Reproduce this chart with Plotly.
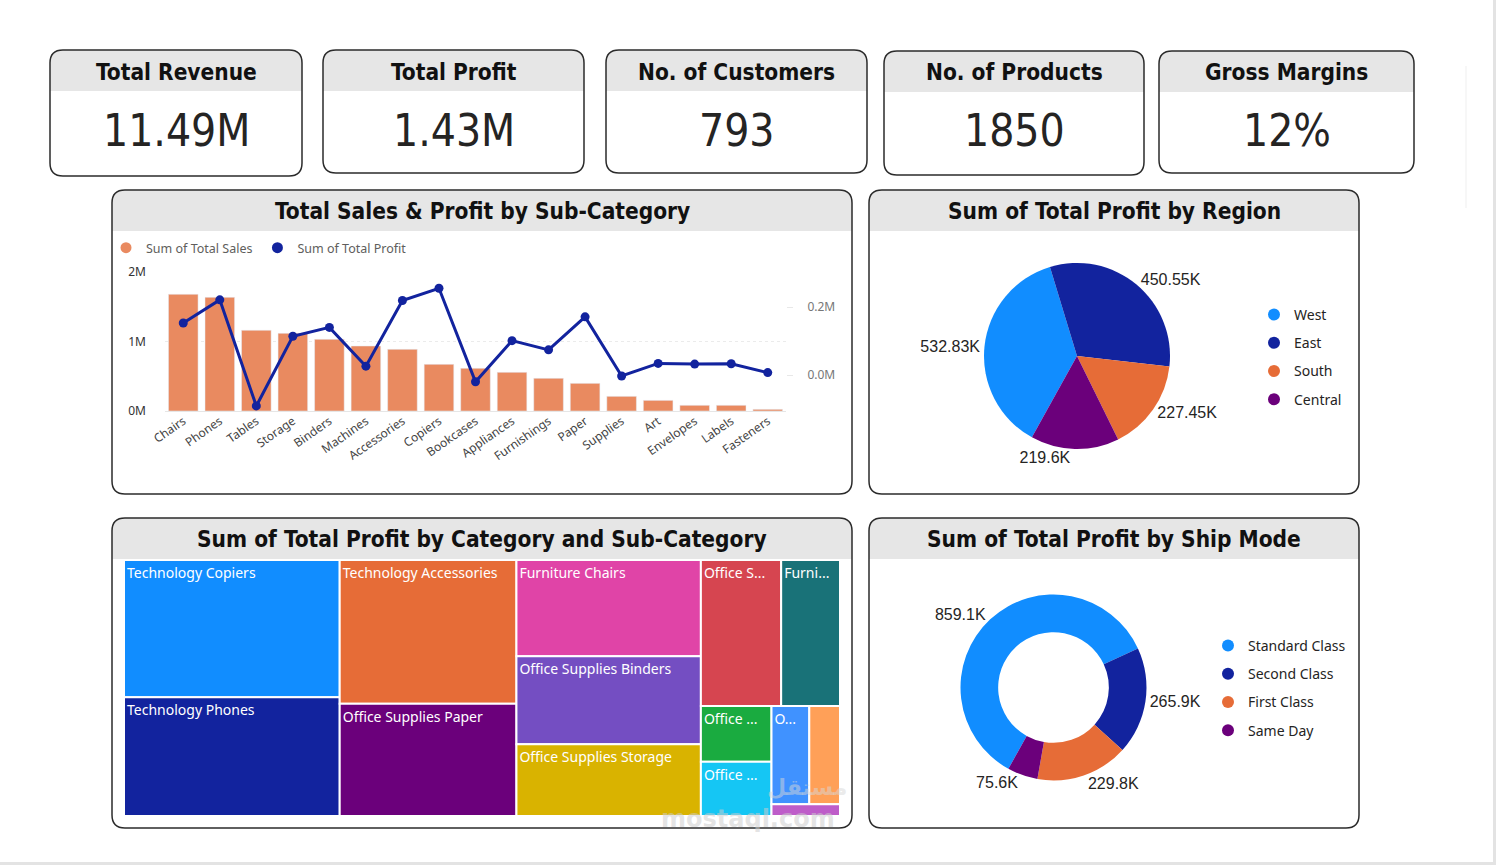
import plotly.graph_objects as go

W, H = 1496, 865

def X(px):
    return px / W

def Y(py):
    return 1 - py / H

# ---------------- data ----------------
kpi_titles = ["Total Revenue", "Total Profit", "No. of Customers", "No. of Products", "Gross Margins"]
kpi_values = ["11.49M", "1.43M", "793", "1850", "12%"]

sub_categories = ["Chairs", "Phones", "Tables", "Storage", "Binders", "Machines", "Accessories",
                  "Copiers", "Bookcases", "Appliances", "Furnishings", "Paper", "Supplies", "Art",
                  "Envelopes", "Labels", "Fasteners"]
total_sales = [1679000, 1635000, 1161000, 1117000, 1031000, 935000, 887000, 671000, 614000,
               556000, 470000, 398000, 211000, 153000, 82000, 82000, 24000]
total_profit = [153000, 221000, -91000, 114000, 140000, 26000, 219000, 255000, -20000,
                101000, 74000, 171000, -3000, 34000, 32000, 33000, 7000]

regions = ["West", "East", "South", "Central"]
region_profit_k = [532.83, 450.55, 227.45, 219.60]

ship_modes = ["Standard Class", "Second Class", "First Class", "Same Day"]
ship_profit_k = [859.1, 265.9, 229.8, 75.6]

tm_labels = ["Technology Copiers", "Technology Phones", "Technology Accessories",
             "Office Supplies Paper", "Furniture Chairs", "Office Supplies Binders",
             "Office Supplies Storage", "Office Supplies Appliances", "Furniture Furnishings",
             "Office Supplies Art", "Office Supplies Labels", "Office Supplies Envelopes",
             "Technology Machines", "Office Supplies Fasteners"]
tm_display = ["Technology Copiers", "Technology Phones", "Technology Accessories",
              "Office Supplies Paper", "Furniture Chairs", "Office Supplies Binders",
              "Office Supplies Storage", "Office S...", "Furni...",
              "Office ...", "Office ...", "O...", "", ""]
tm_profit = [255000, 221000, 219000, 171000, 153000, 140000, 114000, 101000, 74000,
             34000, 33000, 32000, 26000, 7000]

# ---------------- styles ----------------
PBI = ["#118DFF", "#12239E", "#E66C37", "#6B007B", "#E044A7", "#744EC2", "#D9B300",
       "#D64550", "#197278", "#1AAB40", "#15C6F4", "#4092FF", "#FFA058", "#BE5DC9"]
SALES_COLOR = "#E98A60"
PROFIT_COLOR = "#12239E"
TITLE_FONT = "DejaVu Sans Condensed, Liberation Sans Narrow, sans-serif"
UI_FONT = "Noto Sans, Open Sans, sans-serif"
NUM_FONT = "Liberation Sans, Arial, sans-serif"
HEADER_FILL = "#E6E6E6"
BORDER = "#2b2b2b"

fig = go.Figure()

# ---------------- bar + line combo ----------------
fig.add_trace(go.Bar(x=sub_categories, y=total_sales, marker_color=SALES_COLOR,
                     name="Sum of Total Sales", showlegend=False, xaxis="x", yaxis="y"))
fig.add_trace(go.Scatter(x=sub_categories, y=total_profit, mode="lines+markers",
                         line=dict(color=PROFIT_COLOR, width=3),
                         marker=dict(color=PROFIT_COLOR, size=9),
                         name="Sum of Total Profit", showlegend=False, xaxis="x", yaxis="y2",
                         cliponaxis=False))
# legend entries (circle markers)
for nm, col in [("Sum of Total Sales", SALES_COLOR), ("Sum of Total Profit", PROFIT_COLOR)]:
    fig.add_trace(go.Scatter(x=[None], y=[None], mode="markers", name=nm,
                             marker=dict(color=col, size=11), legend="legend",
                             xaxis="x", yaxis="y"))

# ---------------- pie by region ----------------
fig.add_trace(go.Pie(labels=regions, values=region_profit_k, sort=False, direction="clockwise",
                     rotation=209, marker=dict(colors=PBI[:4]), showlegend=False,
                     textposition="outside", texttemplate="%{value:.2~f}K",
                     textfont=dict(family=NUM_FONT, size=16, color="#252423"),
                     domain=dict(x=[X(984), X(1170)], y=[Y(449), Y(263)])))
for i, nm in enumerate(regions):
    fig.add_trace(go.Scatter(x=[None], y=[None], mode="markers", name=nm, legendgroup=nm,
                             marker=dict(color=PBI[i], size=12), legend="legend2",
                             xaxis="x", yaxis="y"))

# ---------------- donut by ship mode ----------------
fig.add_trace(go.Pie(labels=ship_modes, values=ship_profit_k, sort=False, direction="clockwise",
                     rotation=209, hole=0.595, marker=dict(colors=PBI[:4]), showlegend=False,
                     textposition="outside", texttemplate="%{value:.1f}K",
                     textfont=dict(family=NUM_FONT, size=16, color="#252423"),
                     domain=dict(x=[X(960.5), X(1146.5)], y=[Y(780.5), Y(594.5)])))
for i, nm in enumerate(ship_modes):
    fig.add_trace(go.Scatter(x=[None], y=[None], mode="markers", name=nm, legendgroup=nm,
                             marker=dict(color=PBI[i], size=12), legend="legend3",
                             xaxis="x", yaxis="y"))

# ---------------- treemap ----------------
fig.add_trace(go.Treemap(labels=tm_labels, parents=[""] * len(tm_labels), values=tm_profit,
                         text=tm_display, texttemplate="%{text}", textposition="top left",
                         marker=dict(colors=PBI[:len(tm_labels)], line=dict(color="white", width=2),
                                     pad=dict(t=0, l=0, r=0, b=0)),
                         textfont=dict(family=UI_FONT, size=14, color="white"),
                         pathbar=dict(visible=False), sort=True, hoverinfo="label+value",
                         tiling=dict(packing="squarify", squarifyratio=1.618, pad=0),
                         domain=dict(x=[X(124), X(840)], y=[Y(816), Y(560)])))

# ---------------- shapes ----------------
shapes = []

def rrect(x0, y0, x1, y1, r):
    return (f"M {X(x0 + r)},{Y(y0)} L {X(x1 - r)},{Y(y0)} Q {X(x1)},{Y(y0)} {X(x1)},{Y(y0 + r)} "
            f"L {X(x1)},{Y(y1 - r)} Q {X(x1)},{Y(y1)} {X(x1 - r)},{Y(y1)} "
            f"L {X(x0 + r)},{Y(y1)} Q {X(x0)},{Y(y1)} {X(x0)},{Y(y1 - r)} "
            f"L {X(x0)},{Y(y0 + r)} Q {X(x0)},{Y(y0)} {X(x0 + r)},{Y(y0)} Z")

def top_band(x0, y0, x1, yh, r):
    return (f"M {X(x0)},{Y(yh)} L {X(x0)},{Y(y0 + r)} Q {X(x0)},{Y(y0)} {X(x0 + r)},{Y(y0)} "
            f"L {X(x1 - r)},{Y(y0)} Q {X(x1)},{Y(y0)} {X(x1)},{Y(y0 + r)} L {X(x1)},{Y(yh)} Z")

def card(x0, y0, x1, y1, yh, r=13):
    shapes.append(dict(type="path", xref="paper", yref="paper", path=top_band(x0, y0, x1, yh, r),
                       fillcolor=HEADER_FILL, line=dict(width=0), layer="below"))
    shapes.append(dict(type="path", xref="paper", yref="paper", path=rrect(x0, y0, x1, y1, r),
                       fillcolor="rgba(0,0,0,0)", line=dict(color=BORDER, width=1.5), layer="below"))

annotations = []

kpi_boxes = [(50, 50, 302, 176), (323, 50, 584, 173), (606, 50, 867, 173),
             (884, 51, 1144, 175), (1159, 51, 1414, 173)]
for (x0, y0, x1, y1), t, v in zip(kpi_boxes, kpi_titles, kpi_values):
    card(x0, y0, x1, y1, y0 + 41)
    cx = (x0 + x1) / 2
    annotations.append(dict(x=X(cx), y=Y(72), xref="paper", yref="paper", text=f"<b>{t}</b>",
                            showarrow=False, xanchor="center", yanchor="middle",
                            font=dict(family=TITLE_FONT, size=22.5, color="#111111")))
    annotations.append(dict(x=X(cx), y=Y(130), xref="paper", yref="paper", text=v,
                            showarrow=False, xanchor="center", yanchor="middle",
                            font=dict(family=TITLE_FONT, size=44, color="#252423")))

panels = [((112, 190, 852, 494), "Total Sales & Profit by Sub-Category"),
          ((869, 190, 1359, 494), "Sum of Total Profit by Region"),
          ((112, 518, 852, 828), "Sum of Total Profit by Category and Sub-Category"),
          ((869, 518, 1359, 828), "Sum of Total Profit by Ship Mode")]
for (x0, y0, x1, y1), t in panels:
    card(x0, y0, x1, y1, y0 + 41)
    annotations.append(dict(x=X((x0 + x1) / 2), y=Y(y0 + 21), xref="paper", yref="paper",
                            text=f"<b>{t}</b>", showarrow=False, xanchor="center", yanchor="middle",
                            font=dict(family=TITLE_FONT, size=22.5, color="#111111")))

# page edges
shapes.append(dict(type="rect", xref="paper", yref="paper", x0=X(1493), x1=1, y0=0, y1=1,
                   fillcolor="#E3E3E3", line=dict(width=0), layer="below"))
shapes.append(dict(type="rect", xref="paper", yref="paper", x0=0, x1=1, y0=0, y1=Y(862),
                   fillcolor="#E3E3E3", line=dict(width=0), layer="below"))
shapes.append(dict(type="line", xref="paper", yref="paper", x0=X(1466), x1=X(1466), y0=Y(66), y1=Y(208),
                   line=dict(color="#EFEFEF", width=1), layer="below"))

# watermark (kept clear of the treemap labels)
annotations.append(dict(x=X(807), y=Y(802), xref="paper", yref="paper", text="<b>مستقل</b>",
                        showarrow=False, font=dict(family="DejaVu Sans, sans-serif", size=22,
                                                   color="rgba(215,215,215,0.5)")))
annotations.append(dict(x=X(748), y=Y(835), xref="paper", yref="paper", text="<b>mostaql.com</b>",
                        showarrow=False, font=dict(family="DejaVu Sans, sans-serif", size=24,
                                                   color="rgba(205,205,205,0.55)")))

# ---------------- layout ----------------
fig.update_layout(
    width=W, height=H, autosize=False,
    margin=dict(l=0, r=0, t=0, b=0, pad=0, autoexpand=False),
    paper_bgcolor="white", plot_bgcolor="rgba(0,0,0,0)",
    font=dict(family=UI_FONT, color="#444444"),
    bargap=0.19,
    xaxis=dict(domain=[X(165), X(786)], range=[-0.5, len(sub_categories) - 0.5],
               type="category", tickangle=-35, showgrid=False, showline=False, ticks="",
               automargin=False,
               tickfont=dict(family=UI_FONT, size=12, color="#444444"), fixedrange=True),
    yaxis=dict(domain=[Y(411), Y(272)], range=[0, 2000000], tickvals=[0, 1000000, 2000000],
               ticktext=["0M", "1M", "2M"], showgrid=True, gridcolor="#EBEBEB", griddash="dot",
               zeroline=True, zerolinecolor="#E6E6E6", zerolinewidth=1, automargin=False,
               ticklabelstandoff=18,
               tickfont=dict(family=UI_FONT, size=12, color="#333333"), fixedrange=True),
    yaxis2=dict(overlaying="y", side="right", range=[-105882, 302941],
                tickvals=[0, 200000], ticktext=["0.0M", "0.2M"], showgrid=False, zeroline=False,
                ticks="outside", ticklen=6, tickcolor="#E8E8E8", ticklabelstandoff=12,
                automargin=False,
                tickfont=dict(family=UI_FONT, size=12, color="#777777"), fixedrange=True),
    legend=dict(orientation="h", x=X(106), y=Y(233), xanchor="left", yanchor="top",
                font=dict(family=UI_FONT, size=12.5, color="#605E5C"), itemwidth=30,
                bgcolor="rgba(0,0,0,0)", tracegroupgap=0),
    legend2=dict(orientation="v", x=X(1254), y=Y(299), xanchor="left", yanchor="top",
                 font=dict(family=UI_FONT, size=14, color="#252423"), itemwidth=30,
                 bgcolor="rgba(0,0,0,0)", tracegroupgap=7),
    legend3=dict(orientation="v", x=X(1208), y=Y(630), xanchor="left", yanchor="top",
                 font=dict(family=UI_FONT, size=14, color="#252423"), itemwidth=30,
                 bgcolor="rgba(0,0,0,0)", tracegroupgap=7),
    shapes=shapes,
    annotations=annotations,
)

fig.write_html("out.html")
